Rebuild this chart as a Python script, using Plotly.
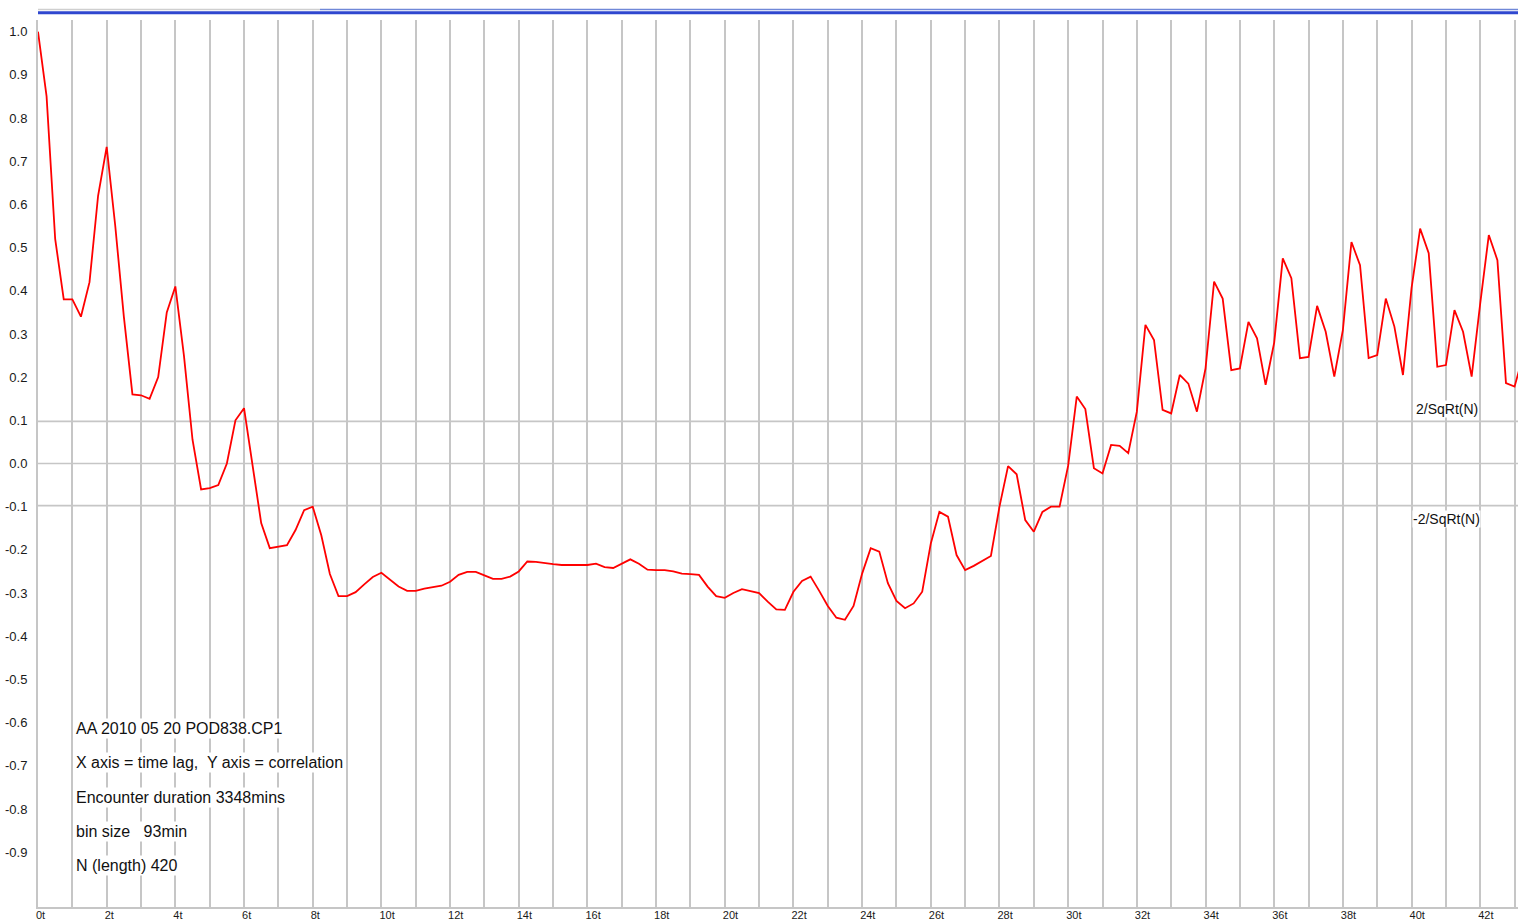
import numpy as np
import plotly.graph_objects as go

# Autocorrelation of the encounter series, one value every quarter lag unit (t)
lag_step_t = 0.25
correlation = [
    1.0, 0.85, 0.52, 0.38, 0.38, 0.34, 0.42, 0.62, 0.733, 0.55,
    0.34, 0.16, 0.158, 0.15, 0.20, 0.35, 0.41, 0.25, 0.055, -0.06,
    -0.057, -0.05, 0.0, 0.10, 0.128, 0.0, -0.138, -0.196, -0.193, -0.189,
    -0.154, -0.108, -0.10, -0.166, -0.256, -0.307, -0.307, -0.298, -0.28, -0.263,
    -0.253, -0.268, -0.285, -0.295, -0.295, -0.29, -0.286, -0.283, -0.274, -0.258,
    -0.251, -0.251, -0.259, -0.267, -0.267, -0.262, -0.25, -0.227, -0.228, -0.231,
    -0.233, -0.235, -0.235, -0.235, -0.235, -0.232, -0.24, -0.242, -0.232, -0.222,
    -0.232, -0.246, -0.247, -0.247, -0.25, -0.255, -0.256, -0.258, -0.285, -0.307,
    -0.311, -0.30, -0.291, -0.295, -0.30, -0.32, -0.338, -0.339, -0.297, -0.272,
    -0.262, -0.295, -0.33, -0.357, -0.362, -0.33, -0.255, -0.196, -0.204, -0.277,
    -0.318, -0.335, -0.324, -0.297, -0.185, -0.112, -0.123, -0.212, -0.247, -0.237,
    -0.225, -0.214, -0.10, -0.006, -0.025, -0.131, -0.158, -0.112, -0.100, -0.100,
    -0.005, 0.155, 0.126, -0.011, -0.023, 0.043, 0.041, 0.024, 0.12, 0.321,
    0.286, 0.124, 0.116, 0.205, 0.185, 0.12, 0.22, 0.421, 0.382, 0.216,
    0.220, 0.328, 0.29, 0.182, 0.28, 0.475, 0.429, 0.244, 0.247, 0.365,
    0.305, 0.201, 0.309, 0.513, 0.459, 0.244, 0.251, 0.382, 0.317, 0.205,
    0.406, 0.544, 0.487, 0.224, 0.228, 0.355, 0.305, 0.201, 0.371, 0.529,
    0.471, 0.186, 0.178, 0.25,
]
lag_t = np.arange(len(correlation)) * lag_step_t

# Axis labelling
x_tick_vals = list(range(0, 43, 2))
x_tick_text = [f"{v}t" for v in x_tick_vals]
y_tick_vals = [1.0, 0.9, 0.8, 0.7, 0.6, 0.5, 0.4, 0.3, 0.2, 0.1, 0.0,
               -0.1, -0.2, -0.3, -0.4, -0.5, -0.6, -0.7, -0.8, -0.9]
y_tick_text = [f"{v:.1f}" for v in y_tick_vals]

# Encounter details
info_lines = [
    "AA 2010 05 20 POD838.CP1",
    "X axis = time lag,\u00a0 Y axis = correlation",
    "Encounter duration 3348mins",
    "bin size \u00a0 93min",
    "N (length) 420",
]
info_y = [-0.6146, -0.6933, -0.773, -0.853, -0.9317]

n_length = 420
bound = 2 / np.sqrt(n_length)

grid_color = "#c6c6c6"
font_family = "Liberation Sans, Arial, sans-serif"

fig = go.Figure()
fig.add_trace(go.Scatter(
    x=lag_t, y=correlation, mode="lines",
    line=dict(color="#ff0000", width=1.8),
    hoverinfo="skip", showlegend=False,
))

shapes = []
# significance bounds and zero line
for yv in (bound, 0.0, -bound):
    shapes.append(dict(type="line", xref="paper", yref="y", x0=0, x1=1, y0=yv, y1=yv,
                       line=dict(color=grid_color, width=1.6), layer="below"))
# title strip along the top edge
shapes.append(dict(type="line", xref="paper", yref="paper", x0=0, x1=1,
                   y0=1.0082, y1=1.0082, line=dict(color="#2f47cf", width=3)))
shapes.append(dict(type="line", xref="paper", yref="paper", x0=0, x1=0.1905,
                   y0=1.0118, y1=1.0118, line=dict(color="#cfcfcf", width=1.5)))
shapes.append(dict(type="line", xref="paper", yref="paper", x0=0.1905, x1=1,
                   y0=1.0118, y1=1.0118, line=dict(color="#7088d8", width=1.5)))

annotations = []
for txt, yv in zip(info_lines, info_y):
    annotations.append(dict(
        x=1.048, y=yv, xref="x", yref="y", text=txt, showarrow=False,
        xanchor="left", yanchor="middle", bgcolor="white", borderpad=1,
        font=dict(family=font_family, size=16, color="#111111"),
    ))
annotations.append(dict(
    x=40.1, y=0.126, xref="x", yref="y", text="2/SqRt(N)", showarrow=False,
    xanchor="left", yanchor="middle", bgcolor="white", borderpad=0,
    font=dict(family=font_family, size=14, color="#111111"),
))
annotations.append(dict(
    x=40.0, y=-0.128, xref="x", yref="y", text="-2/SqRt(N)", showarrow=False,
    xanchor="left", yanchor="middle", bgcolor="white", borderpad=0,
    font=dict(family=font_family, size=14, color="#111111"),
))

fig.update_layout(
    width=1518, height=921,
    margin=dict(l=38, r=0, t=20, b=14, pad=0),
    paper_bgcolor="white", plot_bgcolor="white",
    shapes=shapes, annotations=annotations,
    font=dict(family=font_family, color="#1a1a1a"),
    xaxis=dict(
        range=[0, 43.1], tickmode="array", tickvals=x_tick_vals, ticktext=x_tick_text,
        showgrid=True, gridcolor=grid_color, gridwidth=1.6,
        minor=dict(tick0=0, dtick=1, showgrid=True, gridcolor=grid_color, gridwidth=1.6),
        zeroline=False, showline=True, linecolor=grid_color, linewidth=2,
        ticks="", ticklabelposition="outside right",
        ticklabelstandoff=-3, ticklabelshift=-3,
        tickfont=dict(family=font_family, size=11, color="#1a1a1a"),
        automargin=False, fixedrange=True,
    ),
    yaxis=dict(
        range=[-1.027, 1.027], tickmode="array", tickvals=y_tick_vals, ticktext=y_tick_text,
        showgrid=False, zeroline=False, showline=True, linecolor=grid_color, linewidth=2,
        ticks="", ticklabelstandoff=6,
        tickfont=dict(family=font_family, size=13, color="#1a1a1a"),
        automargin=False, fixedrange=True,
    ),
)

fig.write_html("out.html", config={"displayModeBar": False})
